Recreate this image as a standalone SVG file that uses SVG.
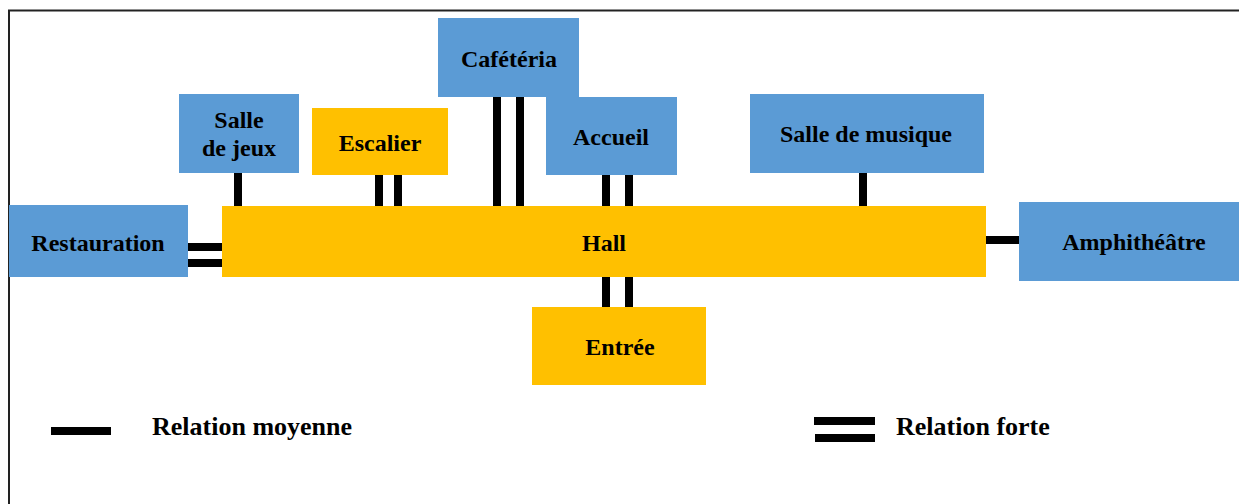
<svg xmlns="http://www.w3.org/2000/svg" width="1239" height="504" viewBox="0 0 1239 504">
<style>
.blue{fill:#5b9bd5}
.yel{fill:#ffc000}
.t{font-family:"Liberation Serif","Times New Roman",serif;font-weight:bold;font-size:24px;fill:#000;text-anchor:middle}
.lt{font-family:"Liberation Serif","Times New Roman",serif;font-weight:bold;font-size:26px;fill:#000}
.c{stroke:#000;stroke-width:8;fill:none}
</style>
<rect x="0" y="0" width="1239" height="504" fill="#fff"/>
<path d="M9 504 V10.5 H1239" fill="none" stroke="#222" stroke-width="2"/>
<g id="connectors">
<line class="c" x1="238" y1="173" x2="238" y2="206"/>
<line class="c" x1="379" y1="175" x2="379" y2="209"/>
<line class="c" x1="398" y1="175" x2="398" y2="208"/>
<line class="c" x1="188" y1="247" x2="225" y2="247"/>
<line class="c" x1="188" y1="263" x2="224" y2="263"/>
<line class="c" x1="497" y1="91" x2="497" y2="206"/>
<line class="c" x1="520" y1="97" x2="520" y2="209"/>
<line class="c" x1="606" y1="175" x2="606" y2="208"/>
<line class="c" x1="629" y1="175" x2="629" y2="210"/>
<line class="c" x1="606" y1="276" x2="606" y2="307"/>
<line class="c" x1="629" y1="273" x2="629" y2="307"/>
<line class="c" x1="863" y1="173" x2="863" y2="206"/>
<line class="c" x1="984" y1="240" x2="1019" y2="240"/>
</g>
<g id="hall"><rect class="yel" x="222" y="206" width="764" height="71"/><text class="t" x="604" y="251">Hall</text></g>
<g id="salle-jeux"><rect class="blue" x="179" y="94" width="120" height="79"/><text class="t" x="239" y="128">Salle</text><text class="t" x="239" y="156">de jeux</text></g>
<g id="escalier"><rect class="yel" x="312" y="108" width="136" height="67"/><text class="t" x="380" y="151">Escalier</text></g>
<g id="restauration"><rect class="blue" x="9" y="205" width="179" height="72"/><text class="t" x="98" y="251">Restauration</text></g>
<g id="cafeteria"><rect class="blue" x="438" y="18" width="141" height="79"/><text class="t" x="509" y="67">Cafétéria</text></g>
<g id="accueil"><rect class="blue" x="546" y="97" width="131" height="78"/><text class="t" x="611" y="145">Accueil</text></g>
<g id="salle-musique"><rect class="blue" x="750" y="94" width="234" height="79"/><text class="t" x="866" y="142">Salle de musique</text></g>
<g id="amphitheatre"><rect class="blue" x="1019" y="202" width="220" height="79"/><text class="t" x="1134" y="250">Amphithéâtre</text></g>
<g id="entree"><rect class="yel" x="532" y="307" width="174" height="78"/><text class="t" x="620" y="355">Entrée</text></g>
<g id="legend">
<line class="c" x1="51" y1="431" x2="111" y2="431" stroke-width="6"/>
<text class="lt" x="152" y="435">Relation moyenne</text>
<line class="c" x1="814" y1="421" x2="875" y2="421" stroke-width="6.5"/>
<line class="c" x1="815" y1="438" x2="875" y2="438" stroke-width="6.5"/>
<text class="lt" x="896" y="435">Relation forte</text>
</g>
</svg>
